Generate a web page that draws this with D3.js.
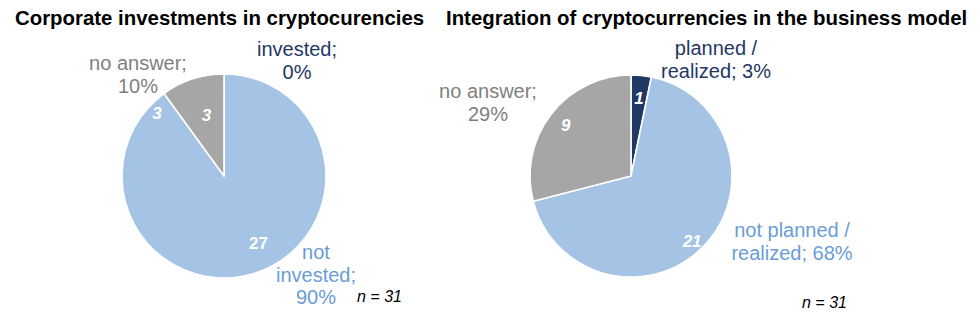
<!DOCTYPE html>
<html>
<head>
<meta charset="utf-8">
<script src="https://cdn.jsdelivr.net/npm/d3@7"></script>
<style>
  html, body { margin: 0; padding: 0; background: #fff; }
  svg { display: block; font-family: "Liberation Sans", Arial, sans-serif; }
</style>
</head>
<body>
<svg id="chart" width="978" height="328"></svg>
<script>
// Survey answers, n = 31
const leftTitle = "Corporate investments in cryptocurencies";
const leftCategories = ["invested", "not invested", "no answer"];
const leftValues = [0, 27, 3];
const leftPercents = ["0%", "90%", "10%"];

const rightTitle = "Integration of cryptocurrencies in the business model";
const rightCategories = ["planned / realized", "not planned / realized", "no answer"];
const rightValues = [1, 21, 9];
const rightPercents = ["3%", "68%", "29%"];

const sampleNote = "n = 31";

// Styling and layout
const sliceColors = ["#203864", "#A5C3E5", "#A6A6A6"];
const labelColors = ["#1F3864", "#6A9DD6", "#7F7F7F"];

const svg = d3.select("#chart");

function drawPie(cfg) {
  const g = svg.append("g");

  g.append("text")
    .attr("x", cfg.titleX).attr("y", 25)
    .attr("font-size", 20.4).attr("font-weight", "bold").attr("fill", "#000")
    .text(cfg.title);

  const pie = d3.pie().sort(null).value(d => d.value).startAngle(0).endAngle(2 * Math.PI);
  const arcs = pie(cfg.values.map((v, i) => ({ value: v, i })));
  const arc = d3.arc().innerRadius(0).outerRadius(cfg.r);

  const pg = g.append("g").attr("transform", `translate(${cfg.cx},${cfg.cy})`);
  pg.selectAll("path.slice")
    .data(arcs.filter(a => a.data.value > 0))
    .join("path")
    .attr("class", "slice")
    .attr("d", arc)
    .attr("fill", a => sliceColors[a.data.i])
    .attr("stroke", "#fff")
    .attr("stroke-width", 1.6)
    .attr("stroke-linejoin", "round");

  // value labels inside the slices
  const labelArc = d3.arc().innerRadius(cfg.r * 0.78).outerRadius(cfg.r * 0.78);
  arcs.forEach(a => {
    if (a.data.value <= 0) return;
    const [x, y] = labelArc.centroid(a);
    const off = cfg.valueOffsets[a.data.i] || [0, 0];
    pg.append("text")
      .attr("x", x + off[0]).attr("y", y + off[1])
      .attr("dy", "0.35em")
      .attr("text-anchor", "middle")
      .attr("font-size", 17).attr("font-weight", "bold")
      .attr("font-style", cfg.uprightValues.includes(a.data.i) ? "normal" : "italic")
      .attr("fill", "#fff")
      .text(a.data.value);
  });

  // extra value marker drawn beside a slice boundary
  (cfg.extraValueLabels || []).forEach(e => {
    const a = arcs[e.slice];
    const ang = a.startAngle + e.angleOffset;
    const rr = cfg.r * e.radius;
    pg.append("text")
      .attr("x", Math.sin(ang) * rr).attr("y", -Math.cos(ang) * rr)
      .attr("dy", "0.35em")
      .attr("text-anchor", "middle")
      .attr("font-size", 17).attr("font-weight", "bold").attr("font-style", "italic")
      .attr("fill", "#fff")
      .text(a.data.value);
  });

  // category labels
  cfg.categoryLines.forEach((lines, i) => {
    const pos = cfg.categoryPos[i];
    const t = g.append("text")
      .attr("text-anchor", "middle")
      .attr("font-size", 20)
      .attr("fill", labelColors[i]);
    lines.forEach((ln, k) => {
      t.append("tspan").attr("x", pos[0]).attr("y", pos[1] + k * 22.5).text(ln);
    });
  });

  g.append("text")
    .attr("x", cfg.noteX).attr("y", cfg.noteY)
    .attr("font-size", 16).attr("font-style", "italic").attr("fill", "#000")
    .text(sampleNote);
}

drawPie({
  title: leftTitle, titleX: 15,
  values: leftValues, cx: 224, cy: 176, r: 102,
  valueOffsets: { 1: [10, -9], 2: [7, 15] },
  uprightValues: [1],
  extraValueLabels: [{ slice: 2, angleOffset: -0.19, radius: 0.9 }],
  categoryLines: [
    [leftCategories[0] + ";", leftPercents[0]],
    [leftCategories[1].split(" ")[0], leftCategories[1].split(" ")[1] + ";", leftPercents[1]],
    [leftCategories[2] + ";", leftPercents[2]]
  ],
  categoryPos: [[297, 56], [316, 259], [138, 70]],
  noteX: 357, noteY: 302
});

drawPie({
  title: rightTitle, titleX: 446,
  values: rightValues, cx: 631, cy: 176, r: 101,
  valueOffsets: { 1: [4, 11], 2: [-3, -3] },
  uprightValues: [],
  categoryLines: [
    ["planned /", "realized; " + rightPercents[0]],
    ["not planned /", "realized; " + rightPercents[1]],
    [rightCategories[2] + ";", rightPercents[2]]
  ],
  categoryPos: [[716, 55], [792, 237], [488, 98]],
  noteX: 802, noteY: 308
});
</script>
</body>
</html>
